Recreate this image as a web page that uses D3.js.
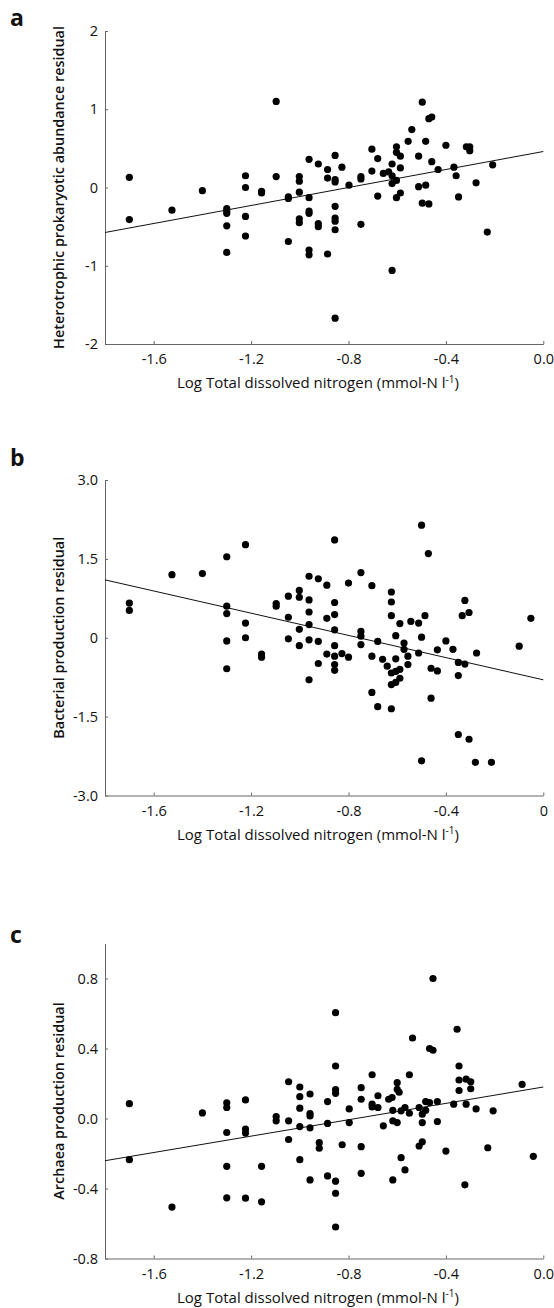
<!DOCTYPE html>
<html>
<head>
<meta charset="utf-8">
<script src="https://cdn.jsdelivr.net/npm/d3@7"></script>
<style>
  body { margin: 0; background: #fff; }
  text { font-family: "Open Sans", "Noto Sans", sans-serif; fill: #111; }
</style>
</head>
<body>
<svg id="chart" width="554" height="1308"></svg>
<script>
// ---- data: [log TDN, residual] ----
const abundance = [
  [-1.70, 0.13], [-1.70, -0.41], [-1.525, -0.29], [-1.40, -0.04],
  [-1.30, -0.27], [-1.30, -0.30], [-1.30, -0.33], [-1.30, -0.49], [-1.30, -0.83],
  [-1.223, 0.15], [-1.223, 0.00], [-1.223, -0.37], [-1.223, -0.62],
  [-1.157, -0.05], [-1.157, -0.07], [-1.097, 1.10], [-1.097, 0.14],
  [-1.047, -0.12], [-1.047, -0.14], [-1.047, -0.69],
  [-1.002, 0.14], [-1.002, 0.08], [-1.002, -0.06], [-1.002, -0.40], [-1.002, -0.45],
  [-0.962, 0.36], [-0.962, -0.13], [-0.962, -0.30], [-0.962, -0.33], [-0.962, -0.80], [-0.962, -0.86],
  [-0.924, 0.30], [-0.924, -0.46], [-0.924, -0.50],
  [-0.886, 0.23], [-0.886, 0.12], [-0.886, -0.85],
  [-0.855, 0.41], [-0.855, 0.10], [-0.855, 0.07], [-0.855, -0.24], [-0.855, -0.39],
  [-0.855, -0.43], [-0.855, -0.54], [-0.855, -1.67],
  [-0.827, 0.26], [-0.798, 0.03], [-0.749, 0.14], [-0.749, 0.11], [-0.749, -0.47],
  [-0.704, 0.49], [-0.704, 0.21], [-0.68, 0.37], [-0.68, -0.11], [-0.657, 0.18], [-0.635, 0.20],
  [-0.621, 0.30], [-0.621, 0.15], [-0.621, 0.05], [-0.621, -1.06],
  [-0.603, 0.52], [-0.603, 0.45], [-0.603, 0.09], [-0.603, -0.13],
  [-0.587, 0.40], [-0.587, 0.25], [-0.587, -0.07], [-0.555, 0.59], [-0.54, 0.74],
  [-0.512, 0.40], [-0.512, 0.01], [-0.497, 1.09], [-0.497, -0.20],
  [-0.483, 0.59], [-0.483, 0.03], [-0.47, 0.88], [-0.458, 0.90], [-0.458, 0.33], [-0.47, -0.21],
  [-0.432, 0.23], [-0.40, 0.54], [-0.367, 0.26], [-0.358, 0.15], [-0.348, -0.12],
  [-0.316, 0.52], [-0.302, 0.52], [-0.302, 0.47], [-0.276, 0.06], [-0.23, -0.57], [-0.208, 0.29]
];

const bacterialProd = [
  [-1.70, 0.66], [-1.70, 0.52], [-1.525, 1.20], [-1.40, 1.22],
  [-1.30, 1.54], [-1.30, 0.60], [-1.30, 0.46], [-1.30, -0.06], [-1.30, -0.59],
  [-1.223, 1.77], [-1.223, 0.28], [-1.223, 0.00], [-1.157, -0.31], [-1.157, -0.37],
  [-1.097, 0.65], [-1.097, 0.60], [-1.047, 0.79], [-1.047, 0.39], [-1.047, -0.02],
  [-1.002, 0.90], [-1.002, 0.77], [-1.002, 0.16], [-1.002, -0.15],
  [-0.962, 1.17], [-0.962, 0.72], [-0.962, 0.49], [-0.962, 0.25], [-0.962, -0.04], [-0.962, -0.80],
  [-0.924, 1.12], [-0.924, -0.07], [-0.924, -0.49],
  [-0.889, 1.00], [-0.889, 0.37], [-0.889, -0.31],
  [-0.857, 1.86], [-0.857, 0.67], [-0.857, 0.44], [-0.857, 0.15], [-0.857, -0.15],
  [-0.857, -0.35], [-0.857, -0.51], [-0.857, -0.62],
  [-0.827, -0.30], [-0.80, 1.04], [-0.80, -0.37],
  [-0.749, 1.24], [-0.749, 0.12], [-0.749, 0.03], [-0.749, -0.13],
  [-0.704, 0.99], [-0.704, -0.35], [-0.704, -1.04], [-0.68, -0.07], [-0.68, -1.31],
  [-0.66, -0.41], [-0.641, -0.54],
  [-0.624, 0.87], [-0.624, 0.68], [-0.624, 0.42], [-0.624, -0.67], [-0.624, -0.89], [-0.624, -1.35],
  [-0.606, 0.04], [-0.606, -0.40], [-0.606, -0.64], [-0.606, -0.85],
  [-0.589, 0.27], [-0.589, -0.60], [-0.589, -0.77], [-0.572, -0.10], [-0.572, -0.22],
  [-0.556, -0.35], [-0.556, -0.51], [-0.544, 0.31], [-0.512, 0.28], [-0.512, -0.29],
  [-0.50, 2.14], [-0.50, 0.01], [-0.50, -2.34], [-0.486, 0.42], [-0.472, 1.60],
  [-0.461, -0.58], [-0.461, -1.15], [-0.435, -0.23], [-0.435, -0.63], [-0.40, -0.06],
  [-0.371, -0.22], [-0.349, -0.47], [-0.349, -0.72], [-0.349, -1.84], [-0.333, 0.42],
  [-0.322, 0.71], [-0.322, -0.50], [-0.305, 0.48], [-0.305, -1.93],
  [-0.279, -2.37], [-0.274, -0.29], [-0.213, -2.37], [-0.099, -0.16], [-0.051, 0.37]
];

const archaeaProd = [
  [-1.70, 0.085], [-1.70, -0.235], [-1.525, -0.506], [-1.40, 0.032],
  [-1.30, 0.09], [-1.30, 0.063], [-1.30, -0.08], [-1.30, -0.273], [-1.30, -0.453],
  [-1.223, 0.106], [-1.223, -0.06], [-1.223, -0.083], [-1.223, -0.455],
  [-1.157, -0.273], [-1.157, -0.476], [-1.097, 0.011], [-1.097, -0.013],
  [-1.046, 0.21], [-1.046, -0.013], [-1.046, -0.12],
  [-1.0, 0.18], [-1.0, 0.125], [-1.0, 0.059], [-1.0, -0.046], [-1.0, -0.235],
  [-0.958, 0.14], [-0.958, 0.028], [-0.958, 0.015], [-0.958, -0.053], [-0.958, -0.351],
  [-0.92, -0.138], [-0.92, -0.17], [-0.886, 0.097], [-0.886, -0.028], [-0.886, -0.328],
  [-0.853, 0.605], [-0.853, 0.30], [-0.853, 0.165], [-0.853, 0.144],
  [-0.853, -0.358], [-0.853, -0.427], [-0.853, -0.62],
  [-0.826, -0.15], [-0.797, 0.055], [-0.797, -0.023],
  [-0.748, 0.176], [-0.748, 0.11], [-0.748, -0.161], [-0.748, -0.313],
  [-0.703, 0.25], [-0.703, 0.082], [-0.703, 0.066], [-0.679, 0.13], [-0.679, 0.063],
  [-0.657, -0.042], [-0.635, 0.11], [-0.621, 0.12],
  [-0.618, 0.047], [-0.618, -0.013], [-0.618, -0.351],
  [-0.60, 0.205], [-0.60, 0.167], [-0.60, -0.023], [-0.592, 0.15],
  [-0.584, 0.044], [-0.584, -0.224], [-0.568, 0.063], [-0.568, -0.294],
  [-0.55, 0.25], [-0.55, 0.03], [-0.537, 0.46], [-0.51, 0.063], [-0.51, -0.157],
  [-0.497, 0.025], [-0.497, -0.023], [-0.497, -0.133], [-0.483, 0.097], [-0.483, 0.047],
  [-0.467, 0.40], [-0.467, 0.091], [-0.453, 0.80], [-0.453, 0.39],
  [-0.435, 0.097], [-0.435, -0.017], [-0.40, -0.186], [-0.368, 0.082], [-0.354, 0.51],
  [-0.346, 0.30], [-0.346, 0.22], [-0.346, 0.16], [-0.322, -0.379],
  [-0.317, 0.225], [-0.317, 0.082], [-0.298, 0.21], [-0.298, 0.17],
  [-0.276, 0.055], [-0.228, -0.167], [-0.206, 0.044], [-0.087, 0.195], [-0.041, -0.216]
];

// regression lines: [intercept, slope]
const fitA = [0.46, 0.575];
const fitB = [-0.80, -1.056];
const fitC = [0.18, 0.234];

const xTicks = [-1.6, -1.2, -0.8, -0.4, 0];
const xLabelsA = ["-1.6", "-1.2", "-0.8", "-0.4", "0.0"];
const xLabelsB = ["-1.6", "-1.2", "-0.8", "-0.4", "0"];
const xLabelsC = ["-1.6", "-1.2", "-0.8", "-0.4", "0.0"];

const yTicksA = [2, 1, 0, -1, -2];
const yLabelsA = ["2", "1", "0", "-1", "-2"];
const yTicksB = [3, 1.5, 0, -1.5, -3];
const yLabelsB = ["3.0", "1.5", "0", "-1.5", "-3.0"];
const yTicksC = [0.8, 0.4, 0, -0.4, -0.8];
const yLabelsC = ["0.8", "0.4", "0.0", "-0.4", "-0.8"];

const panels = [
  { letter: "a", data: abundance, fit: fitA, yDomain: [-2, 2], yTicks: yTicksA, yLabels: yLabelsA,
    xLabels: xLabelsA, yTitle: "Heterotrophic prokaryotic abundance residual",
    top: 31, bottom: 344, letterY: 26 },
  { letter: "b", data: bacterialProd, fit: fitB, yDomain: [-3, 3], yTicks: yTicksB, yLabels: yLabelsB,
    xLabels: xLabelsB, yTitle: "Bacterial production residual",
    top: 480, bottom: 795.5, letterY: 466 },
  { letter: "c", data: archaeaProd, fit: fitC, yDomain: [-0.8, 1.0], yTicks: yTicksC, yLabels: yLabelsC,
    xLabels: xLabelsC, yTitle: "Archaea production residual",
    top: 943.5, bottom: 1258.5, letterY: 943 }
];

const svg = d3.select("#chart");
const left = 105, right = 543.3;

panels.forEach(function (p) {
  let g = svg.append("g");

  let x = d3.scaleLinear().domain([-1.8, 0]).range([left, right]);
  let y = d3.scaleLinear().domain(p.yDomain).range([p.bottom, p.top]);

  let xAxis = g.append("g")
    .attr("transform", "translate(0," + p.bottom + ")")
    .call(d3.axisBottom(x).tickValues(xTicks)
      .tickFormat((d, i) => p.xLabels[i])
      .tickSizeInner(-3).tickSizeOuter(0).tickPadding(10));

  let yAxis = g.append("g")
    .attr("transform", "translate(" + left + ",0)")
    .call(d3.axisLeft(y).tickValues(p.yTicks)
      .tickFormat((d, i) => p.yLabels[i])
      .tickSizeInner(-3).tickSizeOuter(0).tickPadding(7));

  [xAxis, yAxis].forEach(function (ax) {
    ax.select(".domain").attr("stroke", "#666").attr("stroke-width", 1);
    ax.selectAll(".tick line").attr("stroke", "#666");
    ax.selectAll(".tick text").attr("fill", "#111")
      .style("font-size", "14.5px").style("font-weight", 500)
      .style("font-family", '"Open Sans", sans-serif');
  });

  // regression line across the full x range
  let line = d3.line().x(d => x(d)).y(d => y(p.fit[0] + p.fit[1] * d));
  g.append("path")
    .datum(x.domain())
    .attr("d", line)
    .attr("fill", "none")
    .attr("stroke", "#111")
    .attr("stroke-width", 1);

  g.selectAll("circle")
    .data(p.data)
    .enter()
    .append("circle")
    .attr("cx", d => x(d[0]))
    .attr("cy", d => y(d[1]))
    .attr("r", 3.6)
    .attr("fill", "#000");

  // axis titles
  g.append("text")
    .attr("transform", "translate(59," + ((p.top + p.bottom) / 2) + ") rotate(-90)")
    .attr("text-anchor", "middle")
    .attr("dy", "0.35em")
    .style("font-size", "14.4px")
    .style("font-weight", 600)
    .text(p.yTitle);

  let xt = g.append("text")
    .attr("x", 318)
    .attr("y", p.bottom + 44)
    .attr("text-anchor", "middle")
    .style("font-size", "15px")
    .style("font-weight", 500)
    .text("Log Total dissolved nitrogen (mmol-N l");
  xt.append("tspan").attr("dy", -5.5).style("font-size", "10px").text("-1");
  xt.append("tspan").attr("dy", 5.5).text(")");

  g.append("text")
    .attr("x", 10)
    .attr("y", p.letterY)
    .style("font-size", "23px")
    .style("font-weight", 700)
    .text(p.letter);
});
</script>
</body>
</html>
